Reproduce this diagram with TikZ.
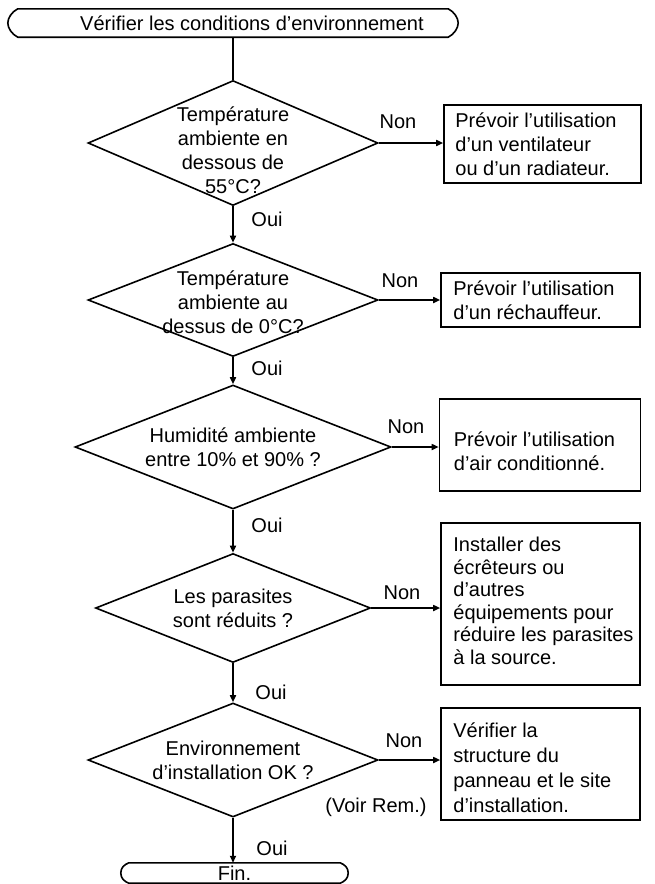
\documentclass[tikz,border=0pt]{standalone}
\usepackage{fontspec}
\setmainfont{Liberation Sans}
\usetikzlibrary{shapes.geometric,arrows.meta,calc}
\begin{document}
\begin{tikzpicture}[x=1pt,y=-1pt,
  every node/.style={font=\fontsize{20}{24}\selectfont},
  flow/.style={line width=1.6pt},
  arr/.style={flow,-{Triangle[length=7pt,width=6pt]}},
  test/.style={diamond,draw,line width=1.6pt,inner sep=0pt},
  ask/.style={align=center,inner sep=0pt},
  frame/.style={rectangle,draw,line width=1.6pt,inner sep=0pt},
  say/.style={align=left,inner sep=0pt,anchor=west},
  lbl/.style={inner sep=0pt}]
\useasboundingbox (0,0) rectangle (654,884);

% start terminator
\node[inner sep=0pt,minimum height=28pt,minimum width=450pt] (start) at (233,23) {};
\node[lbl,anchor=west] (starttxt) at (80,23) {Vérifier les conditions d’environnement};
\draw[flow] ($(start.north west)+(10,0)$) -- ($(start.north east)+(-10,0)$)
  .. controls ($(start.north east)+(-4,3)$) and ($(start.east)+(0,-5)$) .. (start.east)
  .. controls ($(start.east)+(0,5)$) and ($(start.south east)+(-4,-3)$) .. ($(start.south east)+(-10,0)$)
  -- ($(start.south west)+(10,0)$)
  .. controls ($(start.south west)+(4,-3)$) and ($(start.west)+(0,5)$) .. (start.west)
  .. controls ($(start.west)+(0,-5)$) and ($(start.north west)+(4,3)$) .. cycle;

% decisions
\node[test,minimum width=290pt,minimum height=125pt] (d1) at (233,143) {};
\node[ask] (d1t) at (233,150) {Température\\ambiente en\\dessous de\\55°C?};
\node[test,minimum width=290pt,minimum height=113pt] (d2) at (233,300) {};
\node[ask] (d2t) at (233,302) {Température\\ambiente au\\dessus de 0°C?};
\node[test,minimum width=316pt,minimum height=124pt] (d3) at (233,447) {};
\node[ask] (d3t) at (d3) {Humidité ambiente\\entre 10\% et 90\% ?};
\node[test,minimum width=275pt,minimum height=109pt] (d4) at (233,608) {};
\node[ask] (d4t) at (d4) {Les parasites\\sont réduits ?};
\node[test,minimum width=290pt,minimum height=114pt] (d5) at (233,760) {};
\node[ask] (d5t) at (d5) {Environnement\\d’installation OK ?};

% actions
\node[frame,minimum width=197pt,minimum height=78pt] (b1) at (542.5,144) {};
\node[say] (b1t) at ($(b1.west)+(12,0)$) {Prévoir l’utilisation\\d’un ventilateur\\ou d’un radiateur.};
\node[frame,minimum width=199pt,minimum height=54pt] (b2) at (540.5,300) {};
\node[say] (b2t) at ($(b2.west)+(13,0)$) {Prévoir l’utilisation\\d’un réchauffeur.};
\node[frame,minimum width=201pt,minimum height=92pt] (b3) at (540,445) {};
\node[say] (b3t) at ($(b3.west)+(15,6)$) {Prévoir l’utilisation\\d’air conditionné.};
\node[frame,minimum width=199pt,minimum height=162pt] (b4) at (540.5,604) {};
\node[say,font=\fontsize{20}{22.5}\selectfont] (b4t) at ($(b4.west)+(13,-3)$)
  {Installer des\\écrêteurs ou\\d’autres\\équipements pour\\réduire les parasites\\à la source.};
\node[frame,minimum width=199pt,minimum height=112pt] (b5) at (540.5,764) {};
\node[say,font=\fontsize{20}{25}\selectfont] (b5t) at ($(b5.west)+(13,4)$)
  {Vérifier la\\structure du\\panneau et le site\\d’installation.};

% end terminator
\node[inner sep=0pt,minimum height=20pt,minimum width=227pt] (fin) at (234.5,873) {Fin.};
\draw[flow] ($(fin.north west)+(8,0)$) -- ($(fin.north east)+(-8,0)$)
  .. controls ($(fin.north east)+(-3,2)$) and ($(fin.east)+(0,-5)$) .. (fin.east)
  .. controls ($(fin.east)+(0,5)$) and ($(fin.south east)+(-3,-2)$) .. ($(fin.south east)+(-8,0)$)
  -- ($(fin.south west)+(8,0)$)
  .. controls ($(fin.south west)+(3,-2)$) and ($(fin.west)+(0,5)$) .. (fin.west)
  .. controls ($(fin.west)+(0,-5)$) and ($(fin.north west)+(3,2)$) .. cycle;

% main flow
\draw[flow] (start.south -| d1.north) -- (d1.north);
\draw[arr] (d1.south) -- (d2.north);
\draw[arr] (d2.south) -- (d3.north);
\draw[arr] (d3.south) -- (d4.north);
\draw[arr] (d4.south) -- (d5.north);
\draw[arr] (d5.south) -- (fin.north -| d5.south);

% branches
\draw[arr] (d1.east) -- (d1.east -| b1.west);
\draw[arr] (d2.east) -- (d2.east -| b2.west);
\draw[arr] (d3.east) -- (d3.east -| b3.west);
\draw[arr] (d4.east) -- (d4.east -| b4.west);
\draw[arr] (d5.east) -- (d5.east -| b5.west);

% labels
\node[lbl] (n1) at (398,122) {Non};
\node[lbl] (n2) at (400,281) {Non};
\node[lbl] (n3) at (406,427) {Non};
\node[lbl] (n4) at (402,593) {Non};
\node[lbl] (n5) at (404,741) {Non};
\node[lbl] (rem) at (376,807) {(Voir Rem.)};
\node[lbl] (o1) at (267,219) {Oui};
\node[lbl] (o2) at (267,368) {Oui};
\node[lbl] (o3) at (267,525) {Oui};
\node[lbl] (o4) at (271,692) {Oui};
\node[lbl] (o5) at (272,848) {Oui};
\end{tikzpicture}
\end{document}
